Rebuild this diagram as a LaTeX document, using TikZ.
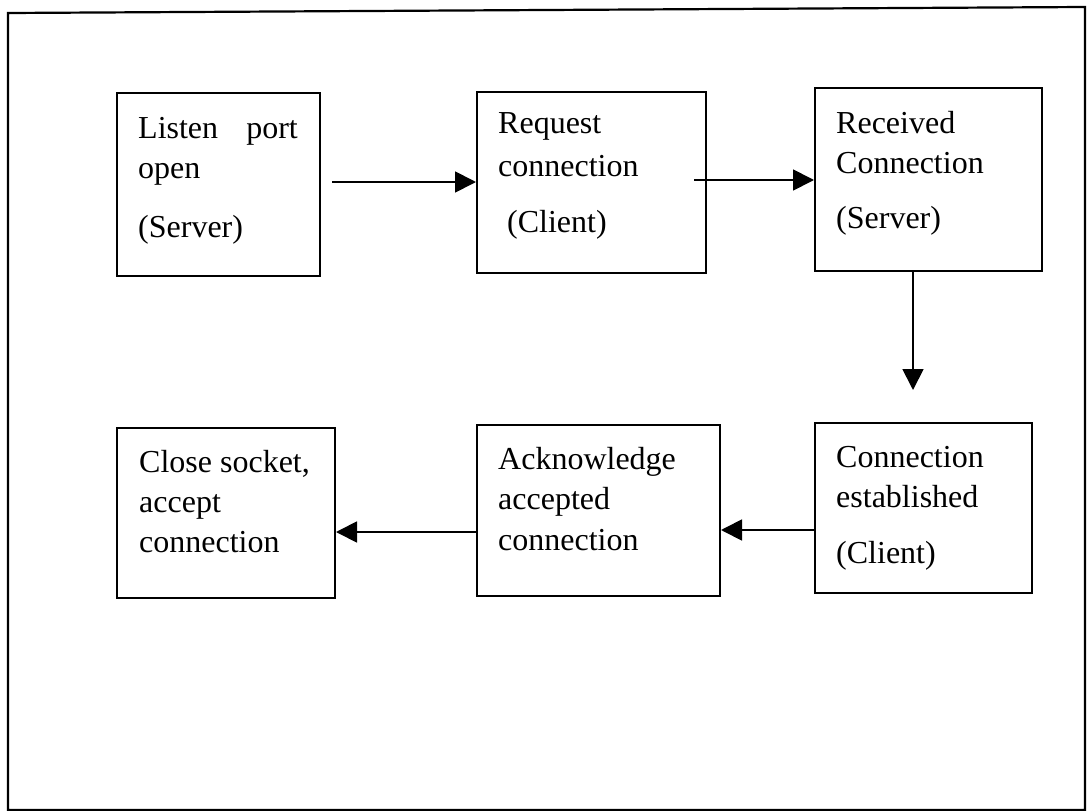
\documentclass[tikz,border=0pt]{standalone}
\usepackage{fontspec}
\setmainfont{Liberation Serif}
\usetikzlibrary{arrows.meta}
\begin{document}
\begin{tikzpicture}[x=1bp,y=-1bp,
  box/.style={draw=black,line width=2bp,inner sep=0pt,rectangle},
  txt/.style={anchor=base west,inner sep=0pt,font=\fontsize{32bp}{38bp}\selectfont},
  txtr/.style={anchor=base east,inner sep=0pt,font=\fontsize{32bp}{38bp}\selectfont},
  flow/.style={line width=1.8bp,-{Triangle[length=21bp,width=21bp]}}]
\useasboundingbox (0,0) rectangle (1087,811);
% outer frame
\draw[line width=2.2bp] (8,13) -- (1085,7) -- (1085,810) -- (8,810) -- cycle;

% top row
\node[box,minimum width=203bp,minimum height=183bp] (listen) at (218.5,184.5) {};
\node[box,minimum width=229bp,minimum height=181bp] (request) at (591.5,182.5) {};
\node[box,minimum width=227bp,minimum height=183bp] (received) at (928.5,179.5) {};
% bottom row
\node[box,minimum width=218bp,minimum height=170bp] (close) at (226,513) {};
\node[box,minimum width=243bp,minimum height=171bp] (ack) at (598.5,510.5) {};
\node[box,minimum width=217bp,minimum height=170bp] (established) at (923.5,508) {};

% texts
\node[txt] (t1a) at (138,138) {Listen};
\node[txtr] (t1b) at (298,138) {port};
\node[txt] (t1c) at (138,178) {open};
\node[txt] (t1d) at (138,237) {(Server)};

\node[txt] (t2a) at (498,133) {Request};
\node[txt] (t2b) at (498,176) {connection};
\node[txt] (t2c) at (507,232) {(Client)};

\node[txt] (t3a) at (836,133) {Received};
\node[txt] (t3b) at (836,173) {Connection};
\node[txt] (t3c) at (836,228) {(Server)};

\node[txt] (t4a) at (139,472) {Close socket,};
\node[txt] (t4b) at (139,512) {accept};
\node[txt] (t4c) at (139,552) {connection};

\node[txt] (t5a) at (498,469) {Acknowledge};
\node[txt] (t5b) at (498,509) {accepted};
\node[txt] (t5c) at (498,550) {connection};

\node[txt] (t6a) at (836,467) {Connection};
\node[txt] (t6b) at (836,507) {established};
\node[txt] (t6c) at (836,563) {(Client)};

% connectors
\coordinate (a1) at (332,182);
\coordinate (a2) at (694,180);
\coordinate (a3) at (913,390);
\draw[flow] (a1) -- (a1 -| request.west);
\draw[flow] (a2) -- (a2 -| received.west);
\draw[flow] (received.south -| a3) -- (a3);
\draw[flow] (established.west |- 0,530) -- (ack.east |- 0,530);
\draw[flow] (ack.west |- 0,532) -- (close.east |- 0,532);
\end{tikzpicture}
\end{document}
